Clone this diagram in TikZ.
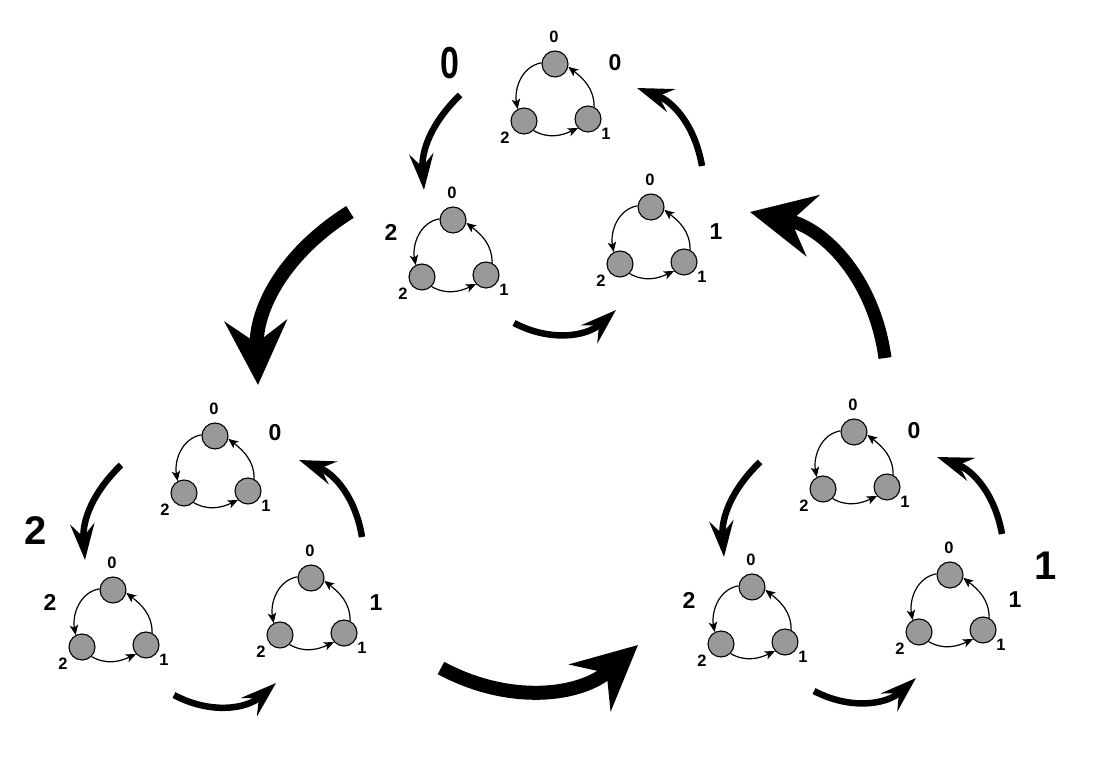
\documentclass[tikz,border=0pt]{standalone}
\usepackage{fontspec}
\setmainfont{Liberation Sans}
\usetikzlibrary{arrows.meta}
\newlength{\NodeSize}
\setlength{\NodeSize}{26pt}
\definecolor{ringgray}{HTML}{999999}
\tikzset{
  ring node/.style={draw, circle, fill=ringgray, line width=1.1pt, minimum size=\NodeSize, inner sep=0pt},
  ring edge/.style={line width=1.2pt, -{Stealth[length=10pt, width=8.5pt, inset=2.5pt]}},
  small label/.style={font=\bfseries\fontsize{16.5}{16.5}\selectfont, inner sep=0pt},
  mid label/.style={font=\bfseries\fontsize{23}{23}\selectfont, inner sep=0pt},
  big label/.style={font=\bfseries\fontsize{40}{40}\selectfont, inner sep=0pt},
  thin turn/.style={line width=6.5pt, -{Stealth[length=36pt, width=24pt, inset=13pt]}, bend right=#1},
  thick turn/.style={line width=14pt, -{Stealth[length=64pt, width=62pt, inset=22pt]}, bend right=#1},
}
% one ring of three nodes, #1 is the name, (#2,#3) the top node
\newcommand{\Ring}[3]{
  \begin{scope}[shift={(#2,#3)}]
    \node[ring node] (#1zero) at (0,0) {};
    \node[ring node] (#1one) at (33,-55) {};
    \node[ring node] (#1two) at (-31,-57) {};
    \node[small label] (#1lzero) at (-1,27) {0};
    \node[small label] (#1lone) at (51,-70) {1};
    \node[small label] (#1ltwo) at (-50,-74) {2};
    \draw[ring edge] (#1zero.175) to[out=190, in=100] (#1two.118);
    \draw[ring edge] (#1two.-45) to[out=-30, in=205] (#1one.222);
    \draw[ring edge] (#1one.63) to[out=90, in=-38] (#1zero.-12);
  \end{scope}
}
\begin{document}
\begin{tikzpicture}[x=1pt, y=1pt]
  \useasboundingbox (0,0) rectangle (1113,768);

  \foreach \name/\px/\py in {a/555/704, b/453/548, c/651/561, d/215/332, e/113/178, f/311/190, g/854/336, h/752/181, i/950/193} {
    \Ring{\name}{\px}{\py}
  }

  % labels beside the rings
  \node[mid label] (azero) at (615,705) {0};
  \node[mid label] (atwo) at (391,536) {2};
  \node[mid label] (aone) at (716,536) {1};
  \node[mid label] (dzero) at (275,335) {0};
  \node[mid label] (dtwo) at (50,166) {2};
  \node[mid label] (done) at (376,165) {1};
  \node[mid label] (gzero) at (914,337) {0};
  \node[mid label] (gtwo) at (689,168) {2};
  \node[mid label] (gone) at (1015,168) {1};
  \node[big label] (bigzero) at (450,705) {\scalebox{.85}[1.12]{0}};
  \node[big label] (bigtwo) at (36,237) {2};
  \node[big label] (bigone) at (1046,202) {1};

  % arrows of the top group
  \coordinate (t1) at (460,673);
  \coordinate (t2) at (424,578);
  \coordinate (t3) at (514,445);
  \coordinate (t4) at (616,458);
  \coordinate (t5) at (702,602);
  \coordinate (t6) at (637,680);
  \draw[thin turn=25] (t1) to (t2);
  \draw[thin turn=35] (t3) to (t4);
  \draw[thin turn=30] (t5) to (t6);

  % arrows of the left group
  \coordinate (l1) at (121,303);
  \coordinate (l2) at (85,208);
  \coordinate (l3) at (174,73);
  \coordinate (l4) at (276,85);
  \coordinate (l5) at (362,231);
  \coordinate (l6) at (299,308);
  \draw[thin turn=25] (l1) to (l2);
  \draw[thin turn=35] (l3) to (l4);
  \draw[thin turn=30] (l5) to (l6);

  % arrows of the right group
  \coordinate (r1) at (760,306);
  \coordinate (r2) at (724,211);
  \coordinate (r3) at (814,77);
  \coordinate (r4) at (916,90);
  \coordinate (r5) at (1002,234);
  \coordinate (r6) at (937,311);
  \draw[thin turn=25] (r1) to (r2);
  \draw[thin turn=35] (r3) to (r4);
  \draw[thin turn=30] (r5) to (r6);

  % the three large arrows
  \coordinate (b1) at (350,556);
  \coordinate (b2) at (258,383);
  \coordinate (b3) at (441,100);
  \coordinate (b4) at (638,123);
  \coordinate (b5) at (885,410);
  \coordinate (b6) at (750,556);
  \draw[thick turn=30] (b1) to (b2);
  \draw[thick turn=35] (b3) to (b4);
  \draw[thick turn=35, line width=13pt] (b5) to (b6);
\end{tikzpicture}
\end{document}
